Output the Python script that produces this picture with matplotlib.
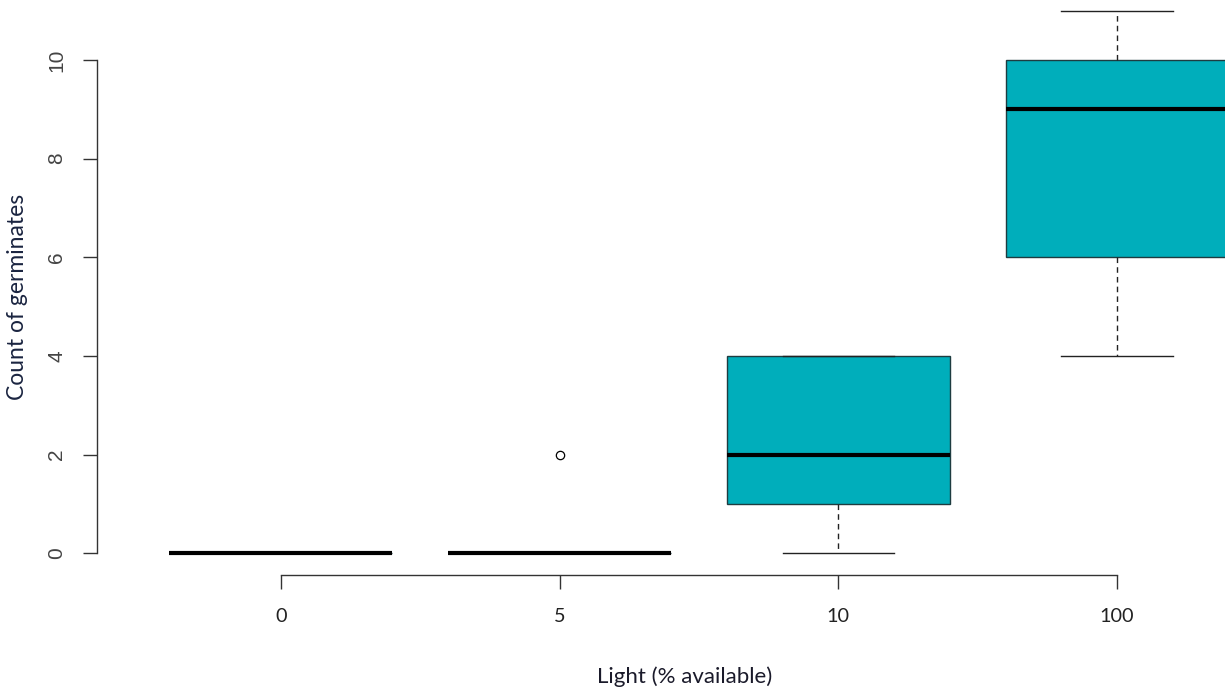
#!/usr/bin/env python3
"""Boxplot of germinate counts under different light levels."""

import matplotlib

matplotlib.use("Agg")

import matplotlib.pyplot as plt

# five-number summaries per light treatment
light_levels = ["0", "5", "10", "100"]
whisker_low = [0, 0, 0, 4]
quart_low = [0, 0, 1, 6]
medians = [0, 0, 2, 9]
quart_high = [0, 0, 4, 10]
whisker_high = [0, 0, 4, 11]
outliers = [[], [2], [], []]

BOX_COLOR = "#00aebb"

stats = []
for i, name in enumerate(light_levels):
    stats.append({
        "label": name,
        "whislo": whisker_low[i],
        "q1": quart_low[i],
        "med": medians[i],
        "q3": quart_high[i],
        "whishi": whisker_high[i],
        "fliers": outliers[i],
    })

W, H = 1225, 691
fig = plt.figure(figsize=(W / 100, H / 100), dpi=100)

# plot region runs past the right and top edges of the canvas
left_px, right_px, top_px, bottom_px = 97, 1301, -11, 575
ax = fig.add_axes([
    left_px / W,
    (H - bottom_px) / H,
    (right_px - left_px) / W,
    (bottom_px - top_px) / H,
])

positions = list(range(1, len(light_levels) + 1))
ax.bxp(
    stats,
    positions=positions,
    widths=0.8,
    patch_artist=True,
    showfliers=True,
    boxprops=dict(facecolor=BOX_COLOR, edgecolor="#1e3c40", linewidth=1.0),
    medianprops=dict(color="black", linewidth=3.0, solid_capstyle="butt"),
    whiskerprops=dict(color="#222222", linewidth=1.0, linestyle=(0, (4, 3))),
    capprops=dict(color="#222222", linewidth=1.0),
    capwidths=0.4,
    flierprops=dict(marker="o", markersize=6, markerfacecolor="white",
                    markeredgecolor="black", markeredgewidth=0.9),
)

ax.set_xlim(0.34, 4.66)
ax.set_ylim(-0.44, 11.44)

for side in ("top", "right"):
    ax.spines[side].set_visible(False)
ax.spines["left"].set_bounds(0, 10)
ax.spines["bottom"].set_bounds(1, 4)
for side in ("left", "bottom"):
    ax.spines[side].set_color("#333333")
    ax.spines[side].set_linewidth(1.0)

ax.set_yticks(range(0, 11, 2))
ax.set_yticklabels([str(v) for v in range(0, 11, 2)], rotation=90,
                   va="center", fontsize=15, color="#444444",
                   family="Liberation Sans")
ax.tick_params(axis="y", length=10, width=1.0, color="#333333", pad=12)

ax.set_xticks(positions)
ax.set_xticklabels(light_levels, fontsize=14.3, color="#222222", family="Lato")
ax.tick_params(axis="x", length=10, width=1.0, color="#333333", pad=14)

fig.text(685 / W, 1 - 677 / H, "Light (% available)", ha="center",
         va="center", fontsize=16, color="#1a1a2a", family="Lato")
fig.text(18 / W, 1 - 297 / H, "Count of germinates", ha="center",
         va="center", rotation=90, fontsize=16.5, color="#1a2440",
         family="Lato")

fig.savefig("out.png", dpi=100)
plt.close(fig)
